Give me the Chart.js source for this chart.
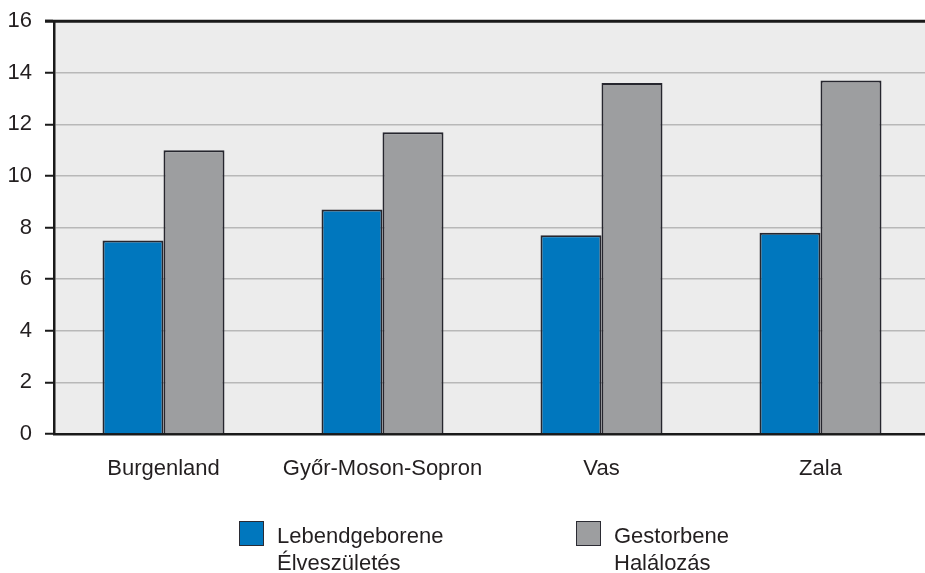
<!DOCTYPE html>
<html>
<head>
<meta charset="utf-8">
<script src="https://cdn.jsdelivr.net/npm/chart.js@4/dist/chart.umd.min.js"></script>
<style>
    html, body { margin: 0; padding: 0; background: #fff; overflow: hidden; }
    #wrap { position: relative; width: 925px; height: 573px; overflow: hidden; }
    #box { position: absolute; left: 0; top: -5px; width: 930px; height: 578px; }
    .leg { position: absolute; top: 521px; font-family: "Liberation Sans", Arial, sans-serif; font-size: 22px; line-height: 27px; color: #231f20; }
    .leg .sw { position: absolute; left: 0; top: 0; width: 23px; height: 23px; border: 1.5px solid #2b2b33; }
    .leg .tx { position: absolute; left: 38px; top: 1px; white-space: nowrap; }
</style>
</head>
<body>
<div id="wrap">
    <div id="box"><canvas id="barChart"></canvas></div>
    <div id="legend"></div>
</div>
<script>
var categories = ["Burgenland", "Győr-Moson-Sopron", "Vas", "Zala"];
var seriesNames = [["Lebendgeborene", "Élveszületés"], ["Gestorbene", "Halálozás"]];
var births = [7.5, 8.7, 7.7, 7.8];
var deaths = [11.0, 11.7, 13.6, 13.7];
var yTicks = [0, 2, 4, 6, 8, 10, 12, 14, 16];

var colors = ["#0077be", "#9d9ea0"];
var legendLeft = [239, 576];

$ready();

function $ready() {
    initBarChart();
    initLegend();
}

function initBarChart() {
    var canvas = document.getElementById("barChart");
    var ctx = canvas.getContext('2d');

    var data = {
        labels: categories,
        datasets: [{
            label: seriesNames[0].join(" "),
            data: births,
            backgroundColor: colors[0],
            borderColor: "#26262e",
            borderWidth: 2
        }, {
            label: seriesNames[1].join(" "),
            data: deaths,
            backgroundColor: colors[1],
            borderColor: "#26262e",
            borderWidth: 2
        }]
    };

    // plot background and the black top frame line
    var frame = {
        id: 'frame',
        beforeDraw: function (chart) {
            var a = chart.chartArea;
            var c = chart.ctx;
            c.save();
            c.fillStyle = "#ececec";
            c.fillRect(a.left, a.top, a.right - a.left, a.bottom - a.top);
            c.restore();
        },
        afterDraw: function (chart) {
            var a = chart.chartArea;
            var c = chart.ctx;
            c.save();
            c.strokeStyle = "#1a1a1a";
            c.lineWidth = 3;
            c.beginPath();
            c.moveTo(a.left - 9, a.top);
            c.lineTo(a.right, a.top);
            c.stroke();
            c.restore();
        }
    };

    var options = {
        responsive: true,
        maintainAspectRatio: false,
        animation: false,
        layout: { padding: { top: 20, left: 0, right: 0, bottom: 0 } },
        plugins: {
            legend: { display: false },
            tooltip: { enabled: false }
        },
        datasets: {
            bar: { categoryPercentage: 0.557, barPercentage: 1 }
        },
        scales: {
            x: {
                grid: { display: false, drawTicks: false },
                border: { color: "#1a1a1a", width: 2.5 },
                ticks: {
                    color: "#231f20",
                    padding: 22,
                    font: { family: "Liberation Sans", size: 22 }
                },
                afterFit: function (scale) { scale.height = 139; }
            },
            y: {
                min: 0,
                max: 16,
                afterBuildTicks: function (scale) {
                    scale.ticks = yTicks.map(function (v) { return { value: v }; });
                },
                grid: {
                    color: "#b8b8b8",
                    lineWidth: 1.5,
                    tickColor: "#1a1a1a",
                    tickWidth: 2,
                    tickLength: 9
                },
                border: { color: "#1a1a1a", width: 2.5 },
                ticks: {
                    color: "#231f20",
                    padding: 13,
                    font: { family: "Liberation Sans", size: 22 }
                },
                afterFit: function (scale) { scale.width = 54; }
            }
        }
    };

    var myBarChart = new Chart(ctx, {
        type: 'bar',
        data: data,
        options: options,
        plugins: [frame]
    });
}

function initLegend() {
    var holder = document.getElementById("legend");
    var html = "";
    for (var i = 0; i < seriesNames.length; i++) {
        html += '<div class="leg" style="left:' + legendLeft[i] + 'px">' +
            '<div class="sw" style="background:' + colors[i] + '"></div>' +
            '<div class="tx">' + seriesNames[i].join("<br>") + '</div></div>';
    }
    holder.innerHTML = html;
}
</script>
</body>
</html>
